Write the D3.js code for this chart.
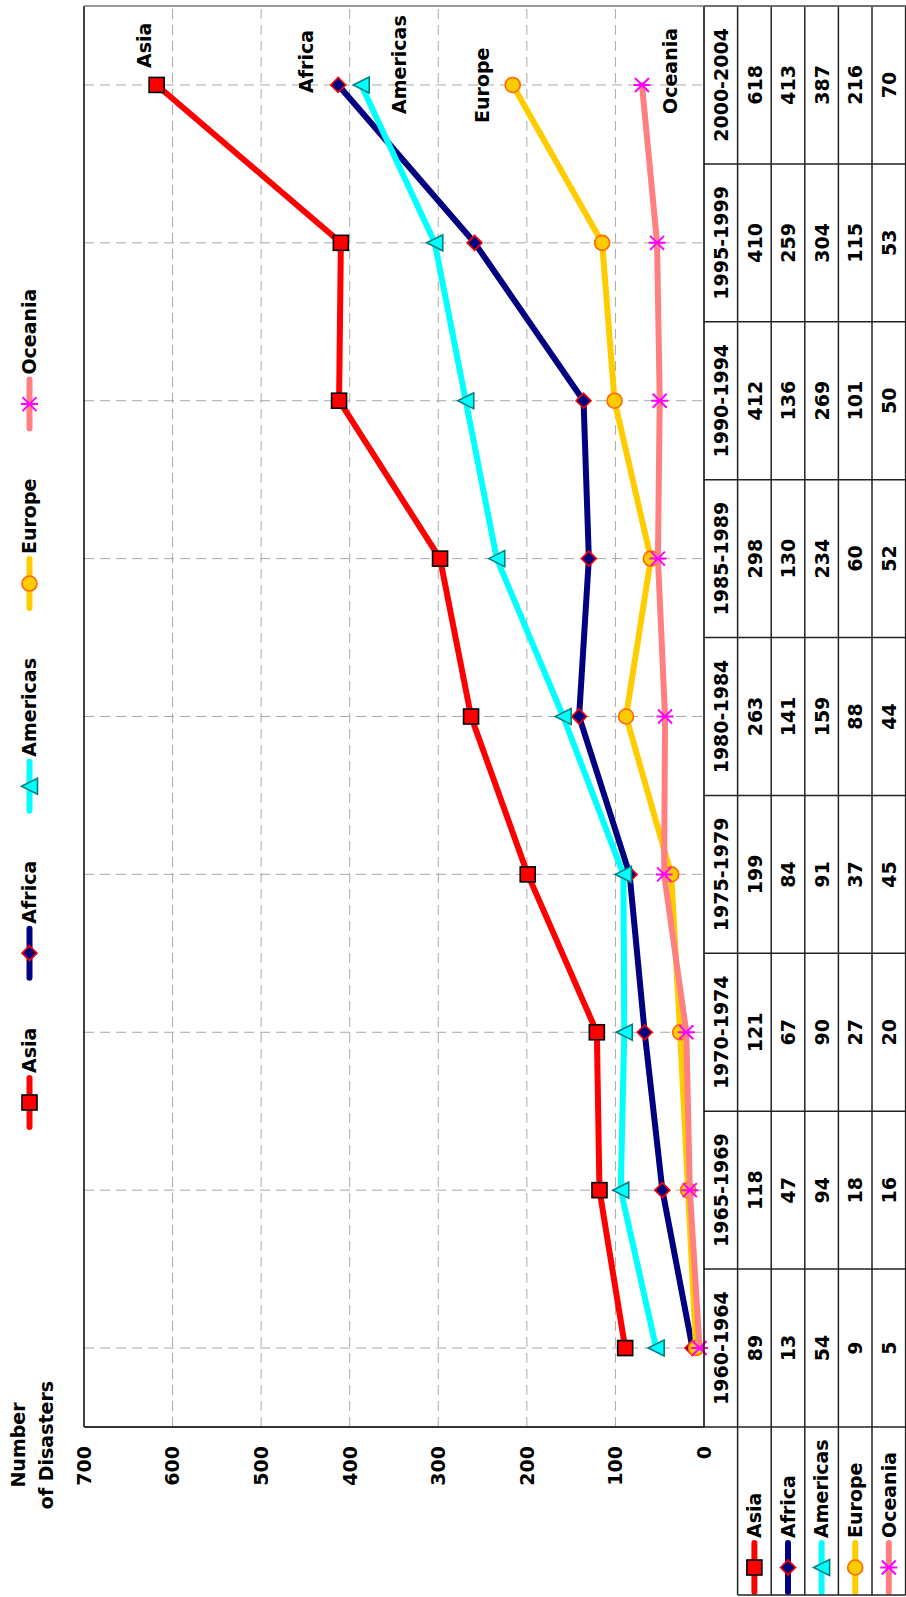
<!DOCTYPE html>
<html>
<head>
<meta charset="utf-8">
<script src="https://cdn.jsdelivr.net/npm/d3@7"></script>
<style>
  body { margin: 0; background: #fff; }
  svg { display: block; }
  text { font-family: "DejaVu Sans", sans-serif; font-weight: bold; font-size: 19px; fill: #000; }
</style>
</head>
<body>
<div id="chart"></div>
<script>
// Data
var periods = ["1960-1964", "1965-1969", "1970-1974", "1975-1979", "1980-1984",
               "1985-1989", "1990-1994", "1995-1999", "2000-2004"];
var asia     = [89, 118, 121, 199, 263, 298, 412, 410, 618];
var africa   = [13, 47, 67, 84, 141, 130, 136, 259, 413];
var americas = [54, 94, 90, 91, 159, 234, 269, 304, 387];
var europe   = [9, 18, 27, 37, 88, 60, 101, 115, 216];
var oceania  = [5, 16, 20, 45, 44, 52, 50, 53, 70];
var yTicks   = [0, 100, 200, 300, 400, 500, 600, 700];

var series = [
  {name: "Asia",     values: asia,     color: "#ff0000", marker: "square",   dx: 17,  dy: -6},
  {name: "Africa",   values: africa,   color: "#000080", marker: "diamond",  dx: -8,  dy: -25},
  {name: "Americas", values: americas, color: "#00ffff", marker: "triangle", dx: -29, dy: 45},
  {name: "Europe",   values: europe,   color: "#ffcc00", marker: "circle",   dx: -38, dy: -24},
  {name: "Oceania",  values: oceania,  color: "#ff8080", marker: "asterisk", dx: -29, dy: 35}
];

// The chart is laid out landscape and then turned a quarter turn to fit the page
var W = 1597, H = 906;
var plot = {left: 170, right: 1591, top: 84, bottom: 704};
var rowH = 33.6;

var svg = d3.select("#chart")
  .append("svg")
    .attr("width", H)
    .attr("height", W);

var g = svg.append("g")
    .attr("transform", "translate(0," + W + ") rotate(-90)");

var x = d3.scalePoint()
  .domain(periods)
  .range([plot.left, plot.right])
  .padding(0.5);
var step = x.step();

var y = d3.scaleLinear()
  .domain([0, 700])
  .range([plot.bottom, plot.top]);

// Grid
var grid = g.append("g")
  .attr("stroke", "#a8a8a8")
  .attr("stroke-width", 1)
  .attr("stroke-dasharray", "10,6");
grid.selectAll(".hg")
  .data(yTicks.filter(function(d) { return d > 0 && d < 700; }))
  .enter().append("line")
    .attr("x1", plot.left).attr("x2", plot.right)
    .attr("y1", function(d) { return y(d); })
    .attr("y2", function(d) { return y(d); });
grid.selectAll(".vg")
  .data(periods)
  .enter().append("line")
    .attr("x1", function(d) { return x(d); })
    .attr("x2", function(d) { return x(d); })
    .attr("y1", plot.top).attr("y2", plot.bottom);

// Y tick labels
g.selectAll(".ytick")
  .data(yTicks)
  .enter().append("text")
    .attr("x", plot.left - 19)
    .attr("y", function(d) { return y(d); })
    .attr("dy", "0.36em")
    .attr("text-anchor", "end")
    .text(function(d) { return d; });

// Y axis title
var title = g.append("text").attr("text-anchor", "middle");
title.append("tspan").attr("x", 152).attr("y", 25).text("Number");
title.append("tspan").attr("x", 152).attr("y", 53).text("of Disasters");

// Markers
function drawMarker(sel, type) {
  if (type === "square") {
    sel.append("rect").attr("x", -7.5).attr("y", -7.5).attr("width", 15).attr("height", 15)
      .attr("fill", "#ff0000").attr("stroke", "#000").attr("stroke-width", 1.6);
  } else if (type === "diamond") {
    sel.append("path").attr("d", "M0,-7.5L7.5,0L0,7.5L-7.5,0Z")
      .attr("fill", "#000080").attr("stroke", "#ff0000").attr("stroke-width", 1.6);
  } else if (type === "triangle") {
    sel.append("path").attr("d", "M0,-8L8,8L-8,8Z")
      .attr("fill", "#00ffff").attr("stroke", "#008080").attr("stroke-width", 1.6);
  } else if (type === "circle") {
    sel.append("circle").attr("r", 7.5)
      .attr("fill", "#ffcc00").attr("stroke", "#ff6600").attr("stroke-width", 1.6);
  } else {
    sel.append("path").attr("d", "M0,-8.5V8.5M-7,-7L7,7M-7,7L7,-7")
      .attr("fill", "none").attr("stroke", "#ff00ff").attr("stroke-width", 2);
  }
}

// Lines and points
var line = d3.line()
  .x(function(d, i) { return x(periods[i]); })
  .y(function(d) { return y(d); });

series.forEach(function(s) {
  g.append("path")
    .datum(s.values)
    .attr("fill", "none")
    .attr("stroke", s.color)
    .attr("stroke-width", 6)
    .attr("stroke-linejoin", "round")
    .attr("stroke-linecap", "round")
    .attr("d", line);
  s.values.forEach(function(v, i) {
    var m = g.append("g").attr("transform", "translate(" + x(periods[i]) + "," + y(v) + ")");
    drawMarker(m, s.marker);
  });
  var last = s.values.length - 1;
  g.append("text")
    .attr("x", x(periods[last]) + s.dx)
    .attr("y", y(s.values[last]) + s.dy)
    .text(s.name);
});

// Top legend
var lx = 470;
series.forEach(function(s) {
  var item = g.append("g").attr("transform", "translate(" + lx + ",29.5)");
  item.append("line").attr("x1", 0).attr("x2", 49)
    .attr("stroke", s.color).attr("stroke-width", 6).attr("stroke-linecap", "round");
  drawMarker(item.append("g").attr("transform", "translate(24.5,0)"), s.marker);
  var t = item.append("text").attr("x", 54).attr("dy", "0.36em").text(s.name);
  lx += 54 + t.node().getComputedTextLength() + 50;
});

// Data table under the plot
var table = g.append("g");
var rowTop = function(r) { return plot.bottom + r * rowH; };
var tableBottom = rowTop(6);

table.selectAll(".hdr")
  .data(periods)
  .enter().append("text")
    .attr("x", function(d) { return x(d); })
    .attr("y", rowTop(0) + rowH / 2)
    .attr("dy", "0.38em")
    .attr("text-anchor", "middle")
    .text(function(d) { return d; });

series.forEach(function(s, r) {
  var cy = rowTop(r + 1) + rowH / 2;
  table.selectAll(".v" + r)
    .data(s.values)
    .enter().append("text")
      .attr("x", function(d, i) { return x(periods[i]); })
      .attr("y", cy)
      .attr("dy", "0.38em")
      .attr("text-anchor", "middle")
      .text(function(d) { return d; });
  var key = table.append("g").attr("transform", "translate(5," + cy + ")");
  key.append("line").attr("x1", 0).attr("x2", 49)
    .attr("stroke", s.color).attr("stroke-width", 6).attr("stroke-linecap", "round");
  drawMarker(key.append("g").attr("transform", "translate(24.5,0)"), s.marker);
  key.append("text").attr("x", 54).attr("dy", "0.36em").text(s.name);
});

// Table rules
var rules = table.append("g").attr("stroke", "#222").attr("stroke-width", 1.5);
d3.range(periods.length + 1).forEach(function(k) {
  var xx = plot.left + k * step;
  rules.append("line").attr("x1", xx).attr("x2", xx)
    .attr("y1", plot.bottom).attr("y2", tableBottom);
});
d3.range(1, 7).forEach(function(r) {
  rules.append("line").attr("x1", 2).attr("x2", plot.right)
    .attr("y1", rowTop(r)).attr("y2", rowTop(r));
});
rules.append("line").attr("x1", 2).attr("x2", 2)
  .attr("y1", rowTop(1)).attr("y2", tableBottom);

// Plot frame
var frame = g.append("g").attr("fill", "none");
frame.append("line").attr("x1", plot.left).attr("x2", plot.right)
  .attr("y1", plot.top).attr("y2", plot.top).attr("stroke", "#000").attr("stroke-width", 1.5);
frame.append("line").attr("x1", plot.left).attr("x2", plot.right)
  .attr("y1", plot.bottom).attr("y2", plot.bottom).attr("stroke", "#000").attr("stroke-width", 1.5);
frame.append("line").attr("x1", plot.left).attr("x2", plot.left)
  .attr("y1", plot.top).attr("y2", plot.bottom).attr("stroke", "#333").attr("stroke-width", 2);
frame.append("line").attr("x1", plot.right).attr("x2", plot.right)
  .attr("y1", plot.top).attr("y2", tableBottom).attr("stroke", "#777").attr("stroke-width", 1.5);
</script>
</body>
</html>
